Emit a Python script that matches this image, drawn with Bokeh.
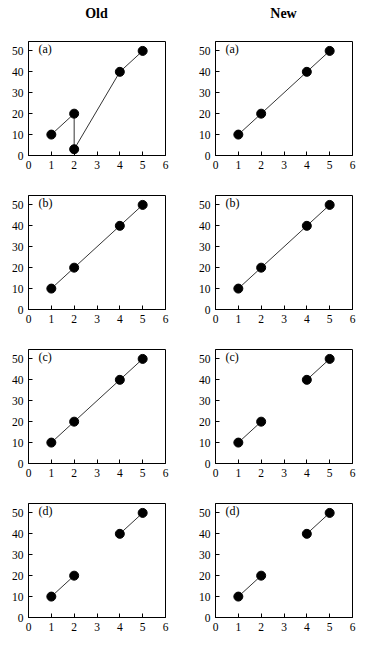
import math
from bokeh.plotting import figure
from bokeh.layouts import gridplot, column
from bokeh.models import Range1d, Label, FixedTicker, Div
from bokeh.embed import file_html
from bokeh.resources import INLINE

nan = float("nan")

col_titles = ["Old", "New"]
panel_labels = ["(a)", "(b)", "(c)", "(d)"]
x_ticks = [0, 1, 2, 3, 4, 5, 6]
y_ticks = [0, 10, 20, 30, 40, 50]

# Old column
x_old_a = [1, 2, 2, 4, 5]
y_old_a = [10, 20, 3, 40, 50]
x_old_b = [1, 2, 4, 5]
y_old_b = [10, 20, 40, 50]
x_old_c = [1, 2, 4, 5]
y_old_c = [10, 20, 40, 50]
x_old_d = [1, 2, nan, 4, 5]
y_old_d = [10, 20, nan, 40, 50]

# New column
x_new_a = [1, 2, 4, 5]
y_new_a = [10, 20, 40, 50]
x_new_b = [1, 2, 4, 5]
y_new_b = [10, 20, 40, 50]
x_new_c = [1, 2, nan, 4, 5]
y_new_c = [10, 20, nan, 40, 50]
x_new_d = [1, 2, nan, 4, 5]
y_new_d = [10, 20, nan, 40, 50]

old_data = [(x_old_a, y_old_a), (x_old_b, y_old_b), (x_old_c, y_old_c), (x_old_d, y_old_d)]
new_data = [(x_new_a, y_new_a), (x_new_b, y_new_b), (x_new_c, y_new_c), (x_new_d, y_new_d)]

FONT = "Liberation Serif"
FW, FH = 137, 114
LEFT1, RIGHT1, LEFT2, RIGHT2 = 28, 30, 20, 10


def make_panel(xs, ys, label, col, row):
    p = figure(
        output_backend="svg", toolbar_location=None,
        frame_width=FW, frame_height=FH,
        x_range=Range1d(0, 6), y_range=Range1d(0, 54.5),
        min_border_left=LEFT1 if col == 0 else LEFT2,
        min_border_right=RIGHT1 if col == 0 else RIGHT2,
        min_border_top=20,
        min_border_bottom=20,
    )
    p.background_fill_color = "white"
    p.border_fill_color = "white"
    p.outline_line_color = "black"
    p.outline_line_width = 1
    p.grid.visible = False
    for ax, ticks in ((p.xaxis, x_ticks), (p.yaxis, y_ticks)):
        ax.ticker = FixedTicker(ticks=ticks)
        ax.major_tick_in = 4
        ax.major_tick_out = 0
        ax.minor_tick_in = 0
        ax.minor_tick_out = 0
        ax.major_label_text_font = FONT
        ax.major_label_text_font_size = "11.5px"
        ax.major_label_text_color = "black"
        ax.axis_line_color = "black"
        ax.major_tick_line_color = "black"
        ax.major_label_standoff = 5
    p.line(xs, ys, line_color="black", line_width=0.8)
    p.scatter(xs, ys, size=9, fill_color="black", line_color="black")
    p.add_layout(Label(x=10, y=FH - 7, x_units="screen", y_units="screen",
                       text=label, text_font=FONT, text_font_size="12px",
                       text_baseline="middle", text_color="black"))
    return p


rows = []
for r in range(4):
    rows.append([
        make_panel(old_data[r][0], old_data[r][1], panel_labels[r], 0, r),
        make_panel(new_data[r][0], new_data[r][1], panel_labels[r], 1, r),
    ])

grid = gridplot(rows, toolbar_location=None)

c1 = LEFT1 + FW / 2
c2 = LEFT1 + FW + RIGHT1 + LEFT2 + FW / 2
span = ('<span style="position:absolute;left:{}px;top:7px;width:80px;margin-left:-40px;'
        'text-align:center;font-family:\'Liberation Serif\';font-size:14px;'
        'font-weight:bold;line-height:14px;color:black;">{}</span>')
html = ('<div style="position:relative;width:350px;height:21px;">'
        + span.format(c1, col_titles[0]) + span.format(c2, col_titles[1]) + '</div>')
header = Div(text=html, width=350, height=21, margin=0)

layout = column(header, grid, spacing=0)

open("out.html", "w").write(file_html(layout, INLINE))
